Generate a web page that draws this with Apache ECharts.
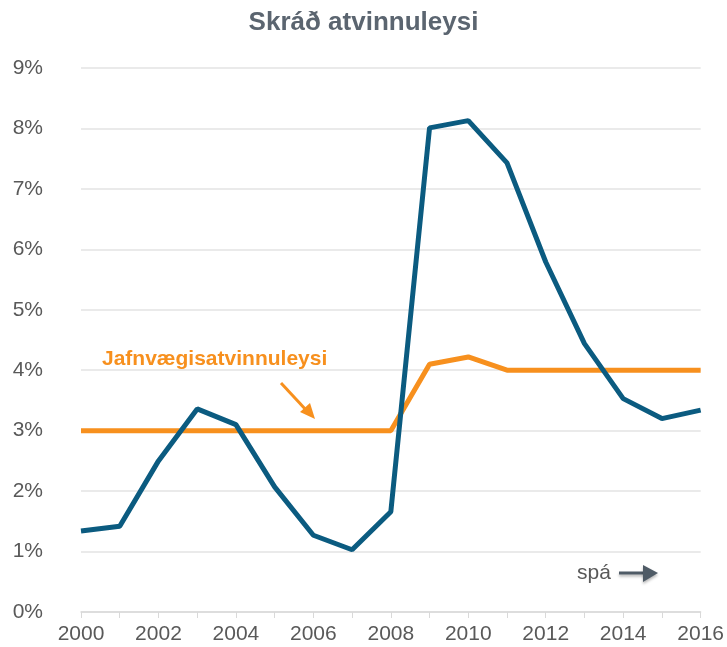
<!DOCTYPE html>
<html><head><meta charset="utf-8">
<script src="https://cdn.jsdelivr.net/npm/echarts@6/dist/echarts.min.js"></script>
<style>html,body{margin:0;padding:0;background:#fff}#c{width:727px;height:647px}</style>
</head><body><div id="c"></div>
<script>
const years = ['2000','2001','2002','2003','2004','2005','2006','2007','2008','2009','2010','2011','2012','2013','2014','2015','2016'];
const registered = [1.34,1.42,2.50,3.36,3.10,2.07,1.27,1.03,1.66,8.01,8.13,7.43,5.79,4.44,3.53,3.20,3.34];
const equilibrium = [3.0,3.0,3.0,3.0,3.0,3.0,3.0,3.0,3.0,4.1,4.22,4.0,4.0,4.0,4.0,4.0,4.0];
const yTicks = [0,1,2,3,4,5,6,7,8,9];

const chart = echarts.init(document.getElementById('c'));
const font = 'Liberation Sans, Arial, sans-serif';
chart.setOption({
  animation:false,
  title:{text:'Skráð atvinnuleysi',left:'center',top:5,textStyle:{fontFamily:font,fontSize:26,fontWeight:'bold',color:'#5b6570'}},
  grid:{left:81,right:24,top:68,bottom:35},
  xAxis:{type:'category',data:years,boundaryGap:false,
    axisLine:{lineStyle:{color:'#d9d9d9',width:1.5}},
    axisTick:{show:true,interval:0,length:6,lineStyle:{color:'#d9d9d9'}},
    axisLabel:{interval:1,fontFamily:font,fontSize:21,color:'#595959',margin:12},
    splitLine:{show:false}},
  yAxis:{type:'value',min:0,max:9,interval:1,
    axisLine:{show:false},axisTick:{show:false},
    axisLabel:{formatter:v=>yTicks.includes(v)?v+'%':'',fontFamily:font,fontSize:21,color:'#595959',margin:38},
    splitLine:{lineStyle:{color:'#e3e3e3',width:1.5}}},
  series:[
    {type:'line',data:registered,symbol:'none',lineStyle:{color:'#0b5b80',width:5},z:3},
    {type:'line',data:equilibrium,symbol:'none',lineStyle:{color:'#f7901e',width:5},z:2}
  ],
  graphic:[
    {type:'text',left:102,top:349,style:{text:'Jafnvægisatvinnuleysi',fill:'#f7901e',font:'bold 21px '+font}},
    {type:'line',shape:{x1:281,y1:383,x2:307,y2:411},style:{stroke:'#f7901e',lineWidth:3}},
    {type:'polygon',shape:{points:[[315,419],[300,412],[310,403]]},style:{fill:'#f7901e'}},
    {type:'text',left:577,top:563,style:{text:'spá',fill:'#595959',font:'21px '+font}},
    {type:'line',shape:{x1:619,y1:573,x2:645,y2:573},style:{stroke:'#4f5b66',lineWidth:3,shadowBlur:3,shadowColor:'rgba(0,0,0,0.3)',shadowOffsetY:2}},
    {type:'polygon',shape:{points:[[658,573],[643,565],[643,582]]},style:{fill:'#4f5b66',shadowBlur:3,shadowColor:'rgba(0,0,0,0.3)',shadowOffsetY:2}}
  ]
});
</script></body></html>
